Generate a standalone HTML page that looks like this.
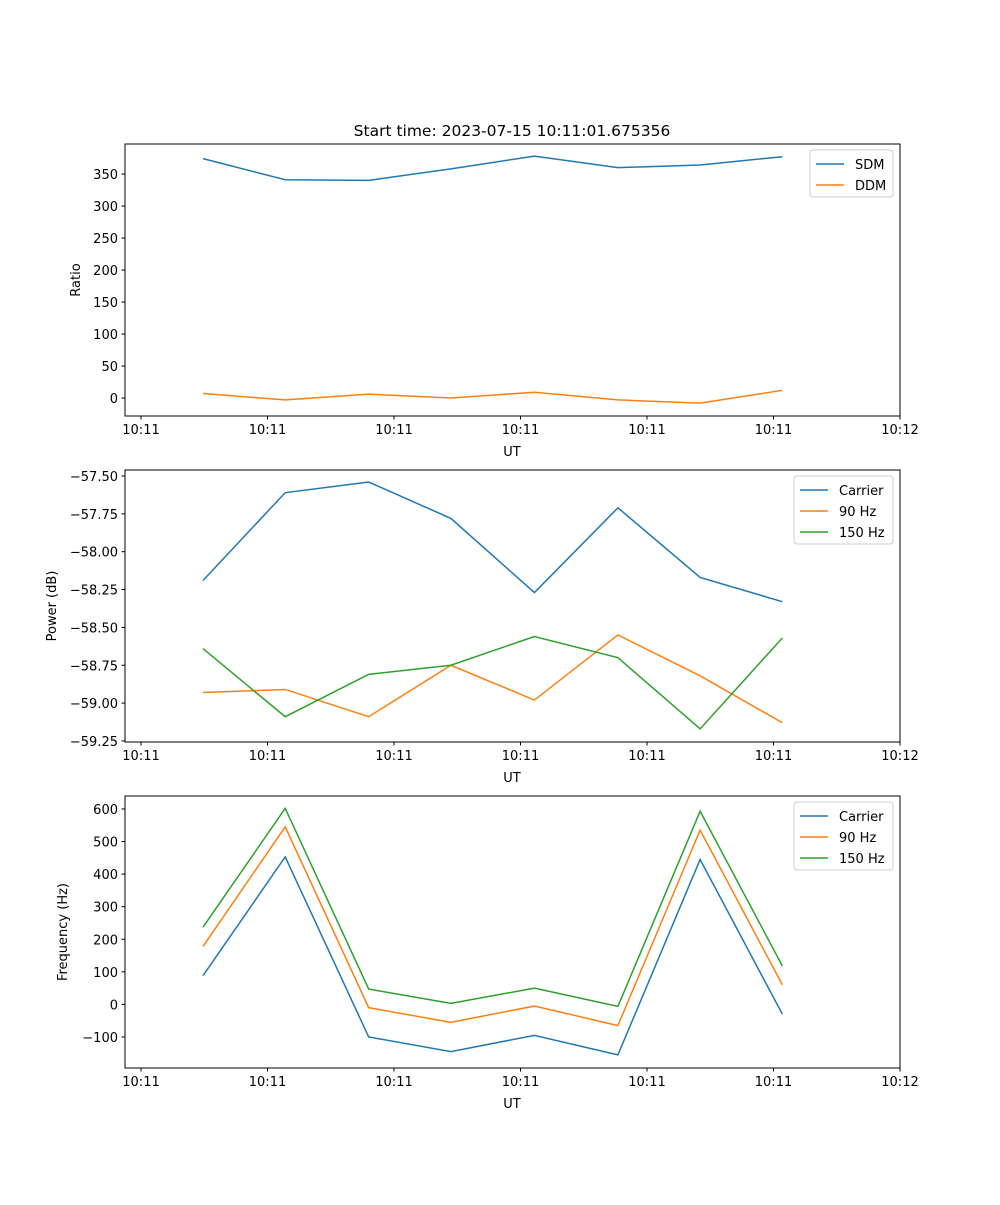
<!DOCTYPE html>
<html><head><meta charset="utf-8"><style>
body{margin:0;background:#fff}
svg text{font-family:"DejaVu Sans","Liberation Sans",sans-serif;font-size:13px;fill:#000}
</style></head><body>
<svg id="fig" width="1000" height="1200" xmlns="http://www.w3.org/2000/svg"></svg>
<script>
const xTickLabels=["10:11","10:11","10:11","10:11","10:11","10:11","10:12"];
const xVals=[0.49,1.14,1.80,2.45,3.11,3.77,4.42,5.07];
const sdm=[374,341,340,358,378,360,364,377];
const ddm=[7,-3,6,0,9,-3,-8,12];
const pCarrier=[-58.19,-57.61,-57.54,-57.78,-58.27,-57.71,-58.17,-58.33];
const p90=[-58.93,-58.91,-59.09,-58.75,-58.98,-58.55,-58.82,-59.13];
const p150=[-58.64,-59.09,-58.81,-58.75,-58.56,-58.70,-59.17,-58.57];
const fCarrier=[88,453,-100,-145,-95,-155,445,-30];
const f90=[178,545,-10,-55,-5,-65,535,60];
const f150=[237,602,47,3,50,-6,593,118];
const ticks1=[0,50,100,150,200,250,300,350];
const ticks2=[-59.25,-59.0,-58.75,-58.5,-58.25,-58.0,-57.75,-57.5];
const ticks3=[-100,0,100,200,300,400,500,600];
const C=["#1f77b4","#ff7f0e","#2ca02c"];
const svg=document.getElementById('fig');const NS="http://www.w3.org/2000/svg";
function el(t,a,p){const e=document.createElementNS(NS,t);for(const k in a)e.setAttribute(k,a[k]);(p||svg).appendChild(e);return e;}
const L=125,R=900;
const xs=v=>141+v*126.5;
function panel(name,top,ymin,ymax,ticks,fmt,ylabel,series,names,legW){
  const bot=top+272;
  const g=el('g',{});
  
  
  const ys=v=>bot-(v-ymin)/(ymax-ymin)*272;
  series.forEach((s,i)=>{
    const pl=el('polyline',{points:s.map((v,j)=>xs(xVals[j])+','+ys(v)).join(' '),fill:'none',stroke:C[i],'stroke-width':1.5},g);
    
    
  });
  const fr=el('rect',{x:L,y:top,width:R-L,height:272,fill:'none',stroke:'#000','stroke-width':1},g);
  
  
  xTickLabels.forEach((t,i)=>{const x=xs(i);el('line',{x1:x,x2:x,y1:bot,y2:bot+3.5,stroke:'#000'},g);
    const tx=el('text',{x:x,y:bot+18,'text-anchor':'middle'},g);tx.textContent=t;
    });
  ticks.forEach(v=>{const y=ys(v);el('line',{x1:L,x2:L-3.5,y1:y,y2:y,stroke:'#000'},g);
    const tx=el('text',{x:L-7,y:y+5,'text-anchor':'end'},g);tx.textContent=fmt(v);
    });
  const xl=el('text',{x:512,y:bot+40,'text-anchor':'middle'},g);xl.textContent='UT';
  
  const yx=ylabel.x;const yl=el('text',{x:yx,y:top+136,'text-anchor':'middle',transform:`rotate(-90 ${yx} ${top+136})`},g);yl.textContent=ylabel.t;
  
  const lx=R-7-legW,ly=top+6;
  const lg=el('g',{},g);
  
  el('rect',{x:lx,y:ly,width:legW,height:names.length*21+5,rx:3,fill:'#fff',stroke:'#ccc'},lg);
  names.forEach((n,i)=>{const y=ly+14+i*21;
    el('line',{x1:lx+6,x2:lx+34,y1:y,y2:y,stroke:C[i],'stroke-width':1.5},lg);
    const t=el('text',{x:lx+45,y:y+5},lg);t.textContent=n;
    });
}
const t=el('text',{x:512,y:136,'text-anchor':'middle',style:'font-size:15.5px'});t.textContent='Start time: 2023-07-15 10:11:01.675356';

const r1=(398-144)/0.64;
panel('ratio-panel',144,398-416<0?-(416-398)/0.64:0,(398-144)/0.64,ticks1,v=>String(v),{x:80,t:'Ratio'},[sdm,ddm],['SDM','DDM'],83);
panel('power-panel',470,-57.5-(742-476)/151.4,-57.5+6/151.4,ticks2,v=>'\u2212'+Math.abs(v).toFixed(2),{x:56,t:'Power (dB)'},[pCarrier,p90,p150],['Carrier','90 Hz','150 Hz'],99);
panel('frequency-panel',796,-(1068-1004.4)/0.3257,(1004.4-796)/0.3257,ticks3,v=>v<0?'\u2212'+(-v):String(v),{x:67,t:'Frequency (Hz)'},[fCarrier,f90,f150],['Carrier','90 Hz','150 Hz'],99);
</script>
</body></html>
